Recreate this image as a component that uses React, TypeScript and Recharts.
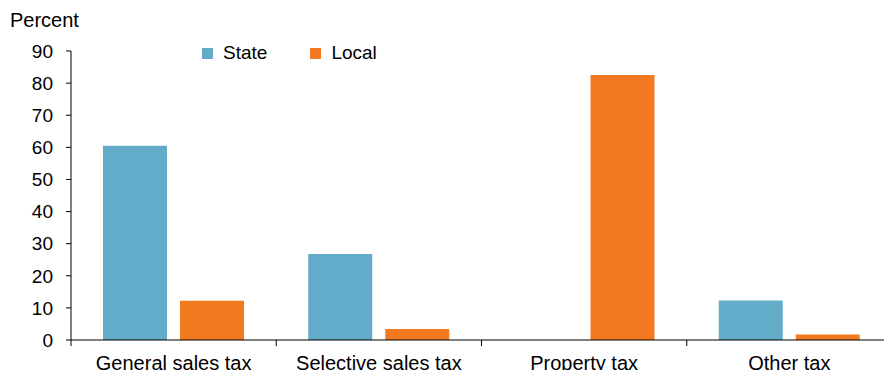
import { BarChart, Bar, XAxis, YAxis } from "recharts";

const categories = ["General sales tax", "Selective sales tax", "Property tax", "Other tax"];
const stateValues = [60.5, 26.8, 0, 12.3];
const localValues = [12.2, 3.4, 82.5, 1.7];
const yTicks = [0, 10, 20, 30, 40, 50, 60, 70, 80, 90];
const seriesNames = ["State", "Local"];
const seriesColors = ["#62acca", "#f47a22"];

const data = categories.map((name, i) => ({
  name,
  State: stateValues[i],
  Local: localValues[i],
}));

const font = "'Liberation Sans', Arial, sans-serif";
const W = 892;
const H = 370;
const LEFT = 71;
const band = (W - LEFT) / categories.length;

function CategoryTick(props: any) {
  const { x, y, payload, index } = props;
  return (
    <g>
      <line x1={x - band / 2} x2={x - band / 2} y1={y - 8} y2={y - 2} stroke="#000" />
      {index === categories.length - 1 && (
        <line x1={x + band / 2} x2={x + band / 2} y1={y - 8} y2={y - 2} stroke="#000" />
      )}
      <text x={x} y={y + 22} textAnchor="middle" fontSize={20} fontFamily={font} fill="#000">
        {payload.value}
      </text>
    </g>
  );
}

export default function App() {
  return (
    <div style={{ position: "relative", margin: "-8px 0 0 -8px", width: W, height: H, fontFamily: font }}>
      <div style={{ position: "absolute", left: 10, top: 9, fontSize: 20, lineHeight: "22px", color: "#000" }}>
        Percent
      </div>
      <div style={{ position: "absolute", left: 202, top: 42, display: "flex", fontSize: 19, lineHeight: "22px" }}>
        {seriesNames.map((n, i) => (
          <div key={n} style={{ display: "flex", alignItems: "center", marginRight: 43 }}>
            <span style={{ width: 11, height: 11, background: seriesColors[i], marginRight: 10, display: "inline-block" }} />
            <span style={{ color: "#000" }}>{n}</span>
          </div>
        ))}
      </div>
      <BarChart
        width={W}
        height={H}
        data={data}
        margin={{ top: 51, right: 0, bottom: 0, left: 0 }}
        barGap={13}
        barCategoryGap={32}
      >
        <XAxis
          dataKey="name"
          height={30}
          axisLine={{ stroke: "#000" }}
          tickLine={false}
          tick={<CategoryTick />}
          interval={0}
        />
        <YAxis
          width={LEFT}
          domain={[0, 90]}
          ticks={yTicks}
          axisLine={{ stroke: "#000" }}
          tickLine={{ stroke: "#000" }}
          tickSize={5}
          tickMargin={13}
          tick={{ fontSize: 19, fill: "#000", fontFamily: font }}
        />
        <Bar dataKey="State" fill={seriesColors[0]} isAnimationActive={false} />
        <Bar dataKey="Local" fill={seriesColors[1]} isAnimationActive={false} />
      </BarChart>
    </div>
  );
}
